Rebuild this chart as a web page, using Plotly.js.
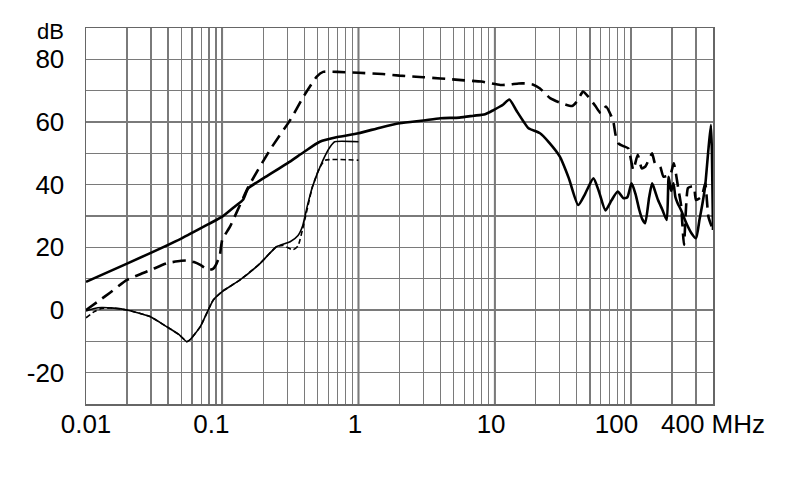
<!DOCTYPE html>
<html>
<head>
<meta charset="utf-8">
<script src="https://cdn.plot.ly/plotly-3.0.1.min.js"></script>
<style>html,body{margin:0;padding:0;background:#fff;}#chart{width:790px;height:499px;}</style>
</head>
<body>
<div id="chart"></div>
<script>
// ---- data (frequency in MHz, level in dB) ----
var thickSolidF = [0.01,0.02,0.05,0.08,0.1,0.125,0.142,0.155,0.2,0.3,0.4,0.52,0.7,1.0,1.44,2.0,3.0,4.0,5.5,7.0,8.5,9.8,11.5,12.8,14.5,16.3,17.7,21.5,25,30,35,41,46,53,58,65,72,80,88,94,101,108,115,121,127,136,143,150,158,170,183,189,197,205,212,220,233,255,278,300,318,335,350,368,386,393,400];
var thickSolidDb = [9.0,14.8,22.8,27.5,29.8,33.2,35.2,38.8,42.0,46.8,50.5,53.7,55.2,56.4,58.2,59.6,60.5,61.2,61.4,62.0,62.5,63.8,65.5,67.2,63.5,60.1,58.0,56.4,53.5,49,42,33.5,37,42,38,31.8,35,37.8,35.7,36,40.4,37,32,29,27.7,36,40.4,38,35.1,32,28.7,42.5,38,40.4,36,34.1,31.9,27.7,24.5,22.9,28.7,34.1,39.4,50,59,50,25.5];

var thickDashF = [0.01,0.0125,0.015,0.02,0.03,0.039,0.05,0.055,0.062,0.069,0.079,0.086,0.091,0.096,0.1,0.114,0.156,0.224,0.315,0.4,0.494,0.55,0.7,1.0,1.5,2.0,3.0,4.0,6.0,8.0,11,13,15,17,19,21.5,25.5,30,36.9,40,44.5,49.6,55,60,65.5,73.8,77,80.8,88,95.5,104,112,120,127,135,143,150,164,173,194,206,223,233,245,262,278,290,300,330,351,370,400];
var thickDashDb = [0.0,3.0,5.5,9.6,12.8,14.9,15.7,15.8,15.3,14.4,12.8,13.2,14.9,17.5,22.4,26.6,39.4,51.1,60.6,68.5,74.5,76.0,76.0,75.7,75.3,74.8,74.3,73.9,73.3,72.9,71.8,72.0,72.3,72.3,72.0,70.7,67.6,66.2,65.1,66.5,69.7,67.6,65,62.8,64.9,60.6,56,53.2,52.3,51.6,44.7,49.5,45.2,45.7,47.9,50,46.8,45.7,42.6,43.1,46.8,38.5,33.5,20.8,38.9,39.4,39.4,35.1,36.2,40.4,29.8,25.5];

var thinSolidF = [0.01,0.0115,0.013,0.016,0.02,0.0295,0.039,0.048,0.055,0.058,0.069,0.086,0.1,0.135,0.19,0.25,0.315,0.36,0.39,0.42,0.46,0.55,0.62,0.67,1.0];
var thinSolidDb = [-0.3,0.5,0.8,0.6,0.0,-2.1,-5.3,-7.8,-10.1,-9.5,-5.3,3.2,5.9,9.6,14.9,20.2,21.8,23.8,27,33,39.4,47.9,52.1,53.7,53.7];

var thinDashF = [0.01,0.0115,0.013,0.016,0.02,0.0295,0.039,0.048,0.055,0.058,0.069,0.086,0.1,0.135,0.19,0.25,0.28,0.33,0.36,0.39,0.46,0.52,0.57,1.0];
var thinDashDb = [-2.5,-0.5,0.5,0.6,0.0,-2.1,-5.3,-7.8,-10.1,-9.5,-5.3,3.2,5.9,9.6,14.9,20.2,20.6,19.2,20.5,26,39.4,45.5,47.8,47.8];

var xLabelVals = [0.01,0.1,1,10,100,400];
var xLabels = ['0.01','0.1','1','10','100','400 MHz'];
var decades = [0.1,1,10,100];
var yLabelVals = [-20,0,20,40,60,80];
var yUnit = 'dB';

// ---- build ----
var FONT = 'Liberation Sans, Arial, sans-serif';
var FS = 26;
var padRight = {'0.1':3,'1':1,'10':1,'100':4};
function padLabel(t){var n=padRight[t]||0;return t+'\u00a0'.repeat(n);}

var gridVals=[], gridText=[];
[0.01,0.1,1,10,100].forEach(function(d){
  for(var k=1;k<=9;k++){
    var v=+(d*k).toPrecision(6);
    if(v>400.0001) break;
    gridVals.push(v);
    var idx=xLabelVals.findIndex(function(u){return Math.abs(u-v)/v<1e-6;});
    gridText.push(idx>=0?padLabel(xLabels[idx]):'');
  }
});
var yVals=[], yText=[];
for(var y=-30;y<=90;y+=10){yVals.push(y);yText.push(yLabelVals.indexOf(y)>=0?String(y):'');}

var traces=[
 {x:thickSolidF,y:thickSolidDb,mode:'lines',line:{color:'#000',width:2.6,shape:'spline',smoothing:0.6},hoverinfo:'skip'},
 {x:thickDashF,y:thickDashDb,mode:'lines',line:{color:'#000',width:2.6,dash:'13px,7px',shape:'spline',smoothing:0.5},hoverinfo:'skip'},
 {x:thinSolidF,y:thinSolidDb,mode:'lines',line:{color:'#000',width:1.6,shape:'spline',smoothing:0.5},hoverinfo:'skip'},
 {x:thinDashF,y:thinDashDb,mode:'lines',line:{color:'#000',width:1.6,dash:'5px,3px',shape:'spline',smoothing:0.5},hoverinfo:'skip'}
];

var shapes=decades.map(function(d){
  return {type:'line',xref:'x',yref:'paper',x0:d,x1:d,y0:0,y1:1,line:{color:'#111',width:1.6},layer:'below'};
});

var layout={
 width:790,height:499,
 margin:{l:86,r:77,t:28,b:95},
 paper_bgcolor:'#fff',plot_bgcolor:'#fff',
 showlegend:false,
 font:{family:FONT,size:FS,color:'#000'},
 xaxis:{type:'log',range:[Math.log10(0.01),Math.log10(400)],tickmode:'array',tickvals:gridVals,ticktext:gridText,
   tickangle:0,automargin:false,
   showgrid:true,gridcolor:'#7a7a7a',gridwidth:1.2,zeroline:false,ticks:'',
   showline:true,mirror:true,linecolor:'#666',linewidth:1.5,ticklabelstandoff:-4,
   tickfont:{family:FONT,size:FS,color:'#000'}},
 yaxis:{range:[-30,90],tickmode:'array',tickvals:yVals,ticktext:yText,automargin:false,
   showgrid:true,gridcolor:'#7a7a7a',gridwidth:1.2,zeroline:false,ticks:'',
   showline:true,mirror:true,linecolor:'#666',linewidth:1.5,ticklabelstandoff:15,
   tickfont:{family:FONT,size:FS,color:'#000'}},
 shapes:shapes,
 annotations:[{text:yUnit,xref:'paper',yref:'paper',x:(66-86)/627,y:(404-46)/376,xanchor:'right',yanchor:'bottom',showarrow:false,font:{family:FONT,size:22,color:'#000'}}]
};
Plotly.newPlot('chart',traces,layout,{staticPlot:true,displayModeBar:false});
</script>
</body>
</html>
